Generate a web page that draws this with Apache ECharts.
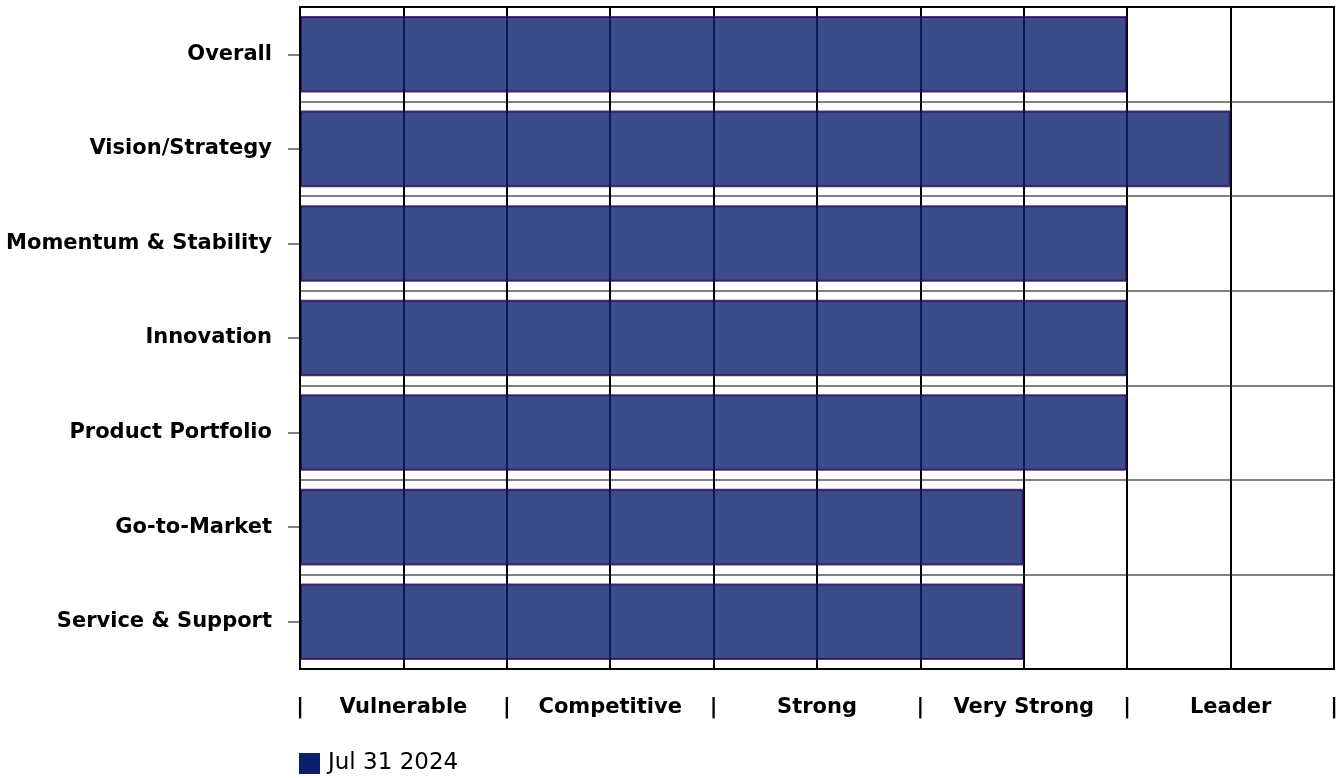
<!DOCTYPE html>
<html>
<head>
<meta charset="utf-8">
<script src="https://cdn.jsdelivr.net/npm/echarts@6/dist/echarts.min.js"></script>
<style>
    html, body { margin: 0; padding: 0; background: #fff; }
    #chart { width: 1336px; height: 778px; }
</style>
</head>
<body>
<div id="chart"></div>
<script>
const categories = ['Overall', 'Vision/Strategy', 'Momentum & Stability', 'Innovation', 'Product Portfolio', 'Go-to-Market', 'Service & Support'];
const scores = [8, 9, 8, 8, 8, 7, 7];
const ratingNames = ['Vulnerable', 'Competitive', 'Strong', 'Very Strong', 'Leader'];
const seriesName = 'Jul 31 2024';

const chart = echarts.init(document.getElementById('chart'));

chart.setOption({
    animation: false,
    textStyle: {fontFamily: 'DejaVu Sans'},
    grid: {
        left: 300, right: 2, top: 7, bottom: 109,
        outerBoundsMode: 'none',
        containLabel: false,
        show: true, borderColor: '#000', borderWidth: 2, z: 5
    },
    legend: {
        data: [seriesName],
        left: 299, top: 752,
        padding: 0,
        itemWidth: 21, itemHeight: 21,
        icon: 'rect',
        itemStyle: {opacity: 1, borderWidth: 0},
        textStyle: {fontSize: 23, color: '#000', padding: [0, 0, 0, 3]}
    },
    xAxis: {
        type: 'value',
        min: 0, max: 10, interval: 1,
        axisLine: {show: true, lineStyle: {color: '#000', width: 2}},
        axisTick: {show: false},
        splitLine: {show: true, lineStyle: {color: '#000', width: 2}},
        axisLabel: {
            margin: 28,
            fontSize: 21, fontWeight: 'bold', color: '#000',
            showMinLabel: true, showMaxLabel: true,
            formatter: v => v % 2 === 0 ? '|' : ratingNames[(v - 1) / 2]
        }
    },
    yAxis: {
        type: 'category',
        data: categories,
        inverse: true,
        axisLine: {show: false},
        axisTick: {show: true, alignWithLabel: true, length: 12, lineStyle: {color: '#808080', width: 2}},
        splitLine: {show: true, lineStyle: {color: '#808080', width: 2}},
        axisLabel: {margin: 28, fontSize: 21, fontWeight: 'bold', color: '#000'}
    },
    series: [{
        name: seriesName,
        type: 'bar',
        data: scores,
        barCategoryGap: '19%',
        itemStyle: {color: '#0b1f6b', opacity: 0.8, borderColor: '#2e0656', borderWidth: 2}
    }]
});
</script>
</body>
</html>
